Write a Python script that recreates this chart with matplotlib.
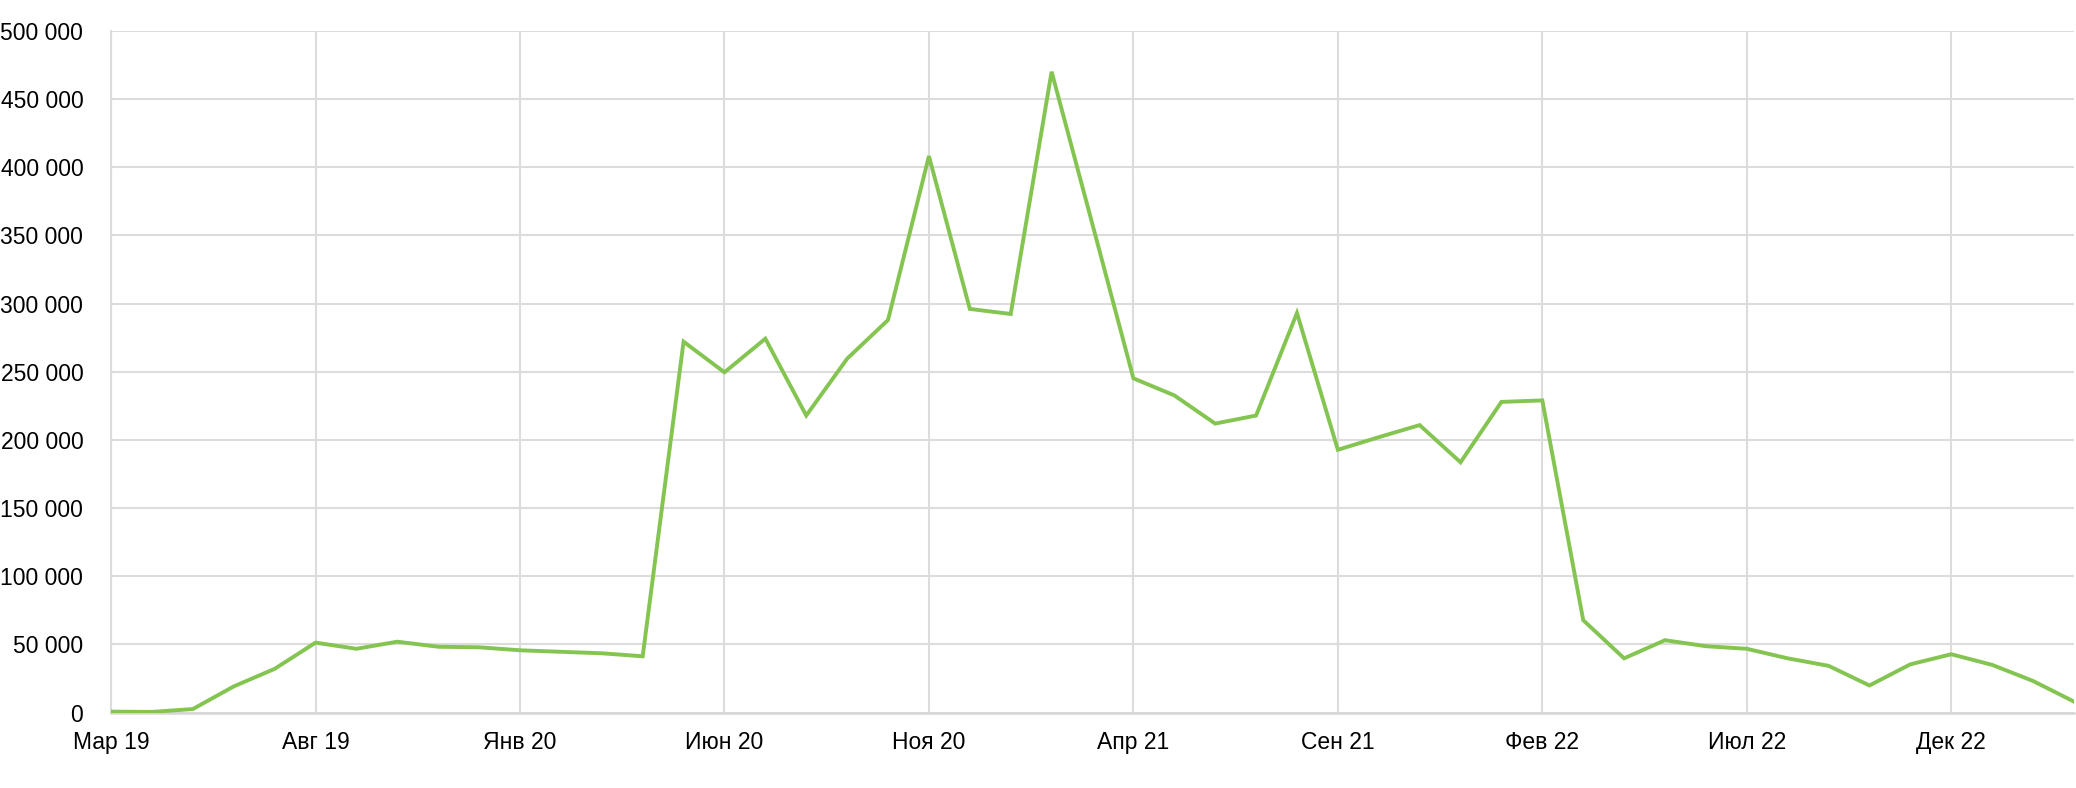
import matplotlib
matplotlib.use("Agg")
import matplotlib.pyplot as plt
from matplotlib.ticker import FuncFormatter, MultipleLocator

plt.rcParams['font.family'] = ['Liberation Sans', 'DejaVu Sans']

# monthly values, Mar 2019 .. Mar 2023
values = [700, 500, 2600, 19200, 32100, 51300, 46800, 52000, 48300, 47900,
          45700, 44600, 43500, 41300, 272100, 249600, 274300, 217900, 259600, 288000,
          408200, 296100, 292400, 470100, 358000, 245200, 232700, 212000, 217900, 293100,
          192800, 202000, 210900, 183600, 227900, 229000, 67800, 39800, 53100, 48700,
          46800, 39800, 34300, 19900, 35400, 42800, 35000, 23200, 8100]
tick_labels = ["Мар 19", "Авг 19", "Янв 20", "Июн 20", "Ноя 20",
               "Апр 21", "Сен 21", "Фев 22", "Июл 22", "Дек 22"]
tick_pos = [i * 5 for i in range(len(tick_labels))]

fig = plt.figure(figsize=(20.76, 7.88), dpi=100)
ax = fig.add_axes([0.0535, 0.0957, 0.9455, 0.865])

ax.plot(range(len(values)), values, color="#84C450", lw=2.8, solid_joinstyle="miter", zorder=3)

ax.set_xlim(0, len(values) - 1)
ax.set_ylim(0, 500000)
ax.yaxis.set_major_locator(MultipleLocator(50000))
ax.yaxis.set_major_formatter(FuncFormatter(lambda v, p: f"{int(v):,}".replace(",", " ")))
ax.set_xticks(tick_pos)
ax.set_xticklabels(tick_labels)

ax.grid(True, color="#dcdcdc", lw=1.5)
ax.set_axisbelow(True)
for s in ["top", "right"]:
    ax.spines[s].set_visible(False)
ax.spines["left"].set_color("#dcdcdc")
ax.spines["left"].set_linewidth(1.5)
ax.spines["bottom"].set_color("#d6d6d6")
ax.spines["bottom"].set_linewidth(1.8)

ax.tick_params(axis="both", length=0, labelsize=16.5, colors="black")
ax.tick_params(axis="y", pad=20)
ax.tick_params(axis="x", pad=13)

fig.savefig("out.png", dpi=100, facecolor="white")
